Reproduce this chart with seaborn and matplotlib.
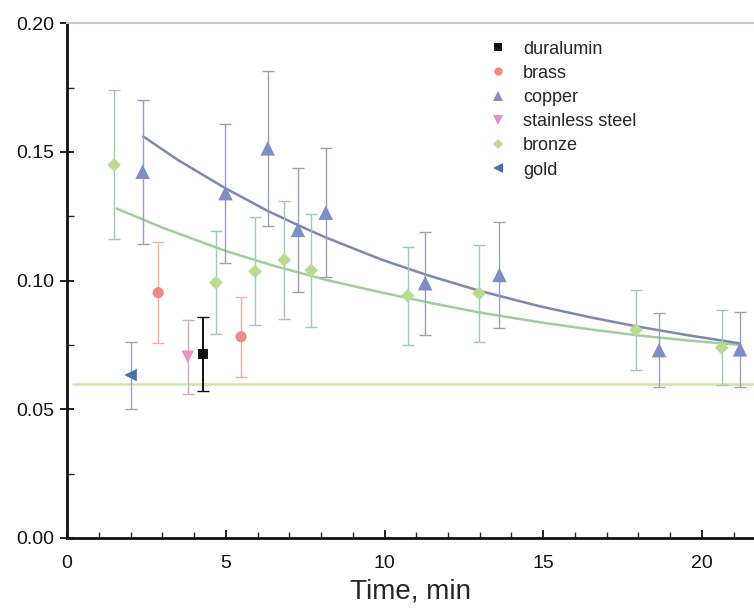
import matplotlib
matplotlib.use("Agg")
from matplotlib import pyplot as plt
from matplotlib.ticker import MultipleLocator, FormatStrFormatter
from matplotlib.lines import Line2D
import seaborn as sns
import pandas as pd
import numpy as np

# measured points (time in min, value) with symmetric errors
dur_x = [4.29]
dur_y = [0.0715]
dur_e = [0.0144]

brass_x = [2.87, 5.48]
brass_y = [0.0953, 0.0782]
brass_e = [0.0196, 0.0156]

cu_x = [2.38, 4.99, 6.32, 7.27, 8.15, 11.28, 13.62, 18.65, 21.2]
cu_y = [0.1423, 0.134, 0.1514, 0.1197, 0.1264, 0.099, 0.1022, 0.073, 0.0733]
cu_e = [0.028, 0.027, 0.030, 0.024, 0.025, 0.020, 0.0205, 0.0145, 0.0145]

ss_x = [3.8]
ss_y = [0.0704]
ss_e = [0.0143]

br_x = [1.48, 4.69, 5.92, 6.84, 7.69, 10.73, 12.98, 17.92, 20.62]
br_y = [0.145, 0.0992, 0.1036, 0.108, 0.104, 0.0941, 0.095, 0.0808, 0.0739]
br_e = [0.029, 0.020, 0.021, 0.023, 0.022, 0.019, 0.019, 0.0155, 0.0145]

gold_x = [2.0]
gold_y = [0.0633]
gold_e = [0.013]

# fitted curves
cu_fit_x = [2.4, 3.5, 5.0, 6.3, 7.3, 8.2, 9.9, 11.3, 13.0, 14.9, 16.5, 17.9, 19.5, 21.2]
cu_fit_y = [0.156, 0.1468, 0.1358, 0.1272, 0.1214, 0.1165, 0.1082, 0.1023, 0.0960, 0.0900, 0.0857, 0.0823, 0.0789, 0.0756]
br_fit_x = [1.56, 3.0, 5.0, 6.5, 8.15, 9.86, 11.5, 13.0, 14.9, 16.5, 18.0, 19.5, 21.2]
br_fit_y = [0.128, 0.1206, 0.1115, 0.1058, 0.1003, 0.0955, 0.0912, 0.0876, 0.0838, 0.0810, 0.0787, 0.0768, 0.0750]

base_x = [0.2, 21.64]
base_y = [0.06, 0.06]

series = [
    ("duralumin", dur_x, dur_y, dur_e, "s", "#111111", "#111111", 7),
    ("brass", brass_x, brass_y, brass_e, "o", "#ee8a82", "#f0b0a0", 8),
    ("copper", cu_x, cu_y, cu_e, "^", "#7d8ec8", "#9aa0b8", 10.5),
    ("stainless steel", ss_x, ss_y, ss_e, "v", "#f08ccc", "#c8b0c0", 9),
    ("bronze", br_x, br_y, br_e, "D", "#b8dc90", "#a0c8b4", 7),
    ("gold", gold_x, gold_y, gold_e, "<", "#4a70aa", "#9aa8b8", 9),
]

sns.set_theme(style="ticks")
plt.rcParams["font.family"] = ["Liberation Sans", "DejaVu Sans"]

fig = plt.figure(figsize=(7.54, 6.12), dpi=100)
ax = fig.add_axes([0.089, 0.121, 0.911, 0.841])

# fit lines and baseline
sns.lineplot(x=base_x, y=base_y, ax=ax, color="#cfe6a8", lw=1.8, zorder=1)
sns.lineplot(x=br_fit_x, y=br_fit_y, ax=ax, color="#a0d098", lw=1.8, zorder=2)
sns.lineplot(x=cu_fit_x, y=cu_fit_y, ax=ax, color="#7f86b4", lw=1.8, zorder=2)

handles = []
for name, xs, ys, es, mk, col, ecol, ms in series:
    ax.errorbar(xs, ys, yerr=es, fmt="none", ecolor=ecol,
                elinewidth=1.4 if name == "duralumin" else 1.0,
                capsize=4, capthick=1.0, zorder=3)
    df = pd.DataFrame({"t": xs, "v": ys})
    sns.scatterplot(data=df, x="t", y="v", ax=ax, marker=mk, color=col,
                    s=ms ** 2, edgecolor="none", zorder=4, legend=False)
    handles.append(Line2D([], [], marker=mk, color=col, linestyle="none",
                          markersize=ms * 0.75, markeredgewidth=0))

ax.set_xlim(0, 21.64)
ax.set_ylim(0, 0.2)
ax.xaxis.set_major_locator(MultipleLocator(5))
ax.xaxis.set_minor_locator(MultipleLocator(1))
ax.yaxis.set_major_locator(MultipleLocator(0.05))
ax.yaxis.set_minor_locator(MultipleLocator(0.025))
ax.yaxis.set_major_formatter(FormatStrFormatter("%.2f"))
ax.tick_params(axis="x", which="major", direction="in", length=6, width=1.3,
               labelsize=14, colors="#111111", pad=12)
ax.tick_params(axis="x", which="minor", direction="in", length=4, width=1.0)
ax.tick_params(axis="y", which="major", direction="inout", length=10, width=1.3,
               labelsize=14, colors="#111111", pad=4)
ax.tick_params(axis="y", which="minor", direction="in", length=5, width=1.0)

ax.spines["right"].set_visible(False)
ax.spines["top"].set_color("#c8c8c8")
ax.spines["top"].set_linewidth(1.5)
ax.spines["left"].set_linewidth(2.0)
ax.spines["bottom"].set_linewidth(2.0)
ax.spines["left"].set_color("#111111")
ax.spines["bottom"].set_color("#111111")

ax.set_xlabel("Time, min", fontsize=20, labelpad=5)
ax.set_ylabel("")

ax.legend(handles, [s[0] for s in series], loc="upper left",
          bbox_to_anchor=(0.59, 0.998), frameon=False, fontsize=13,
          handlelength=1.0, handletextpad=0.9, labelspacing=0.4)

fig.savefig("out.png", dpi=100)
